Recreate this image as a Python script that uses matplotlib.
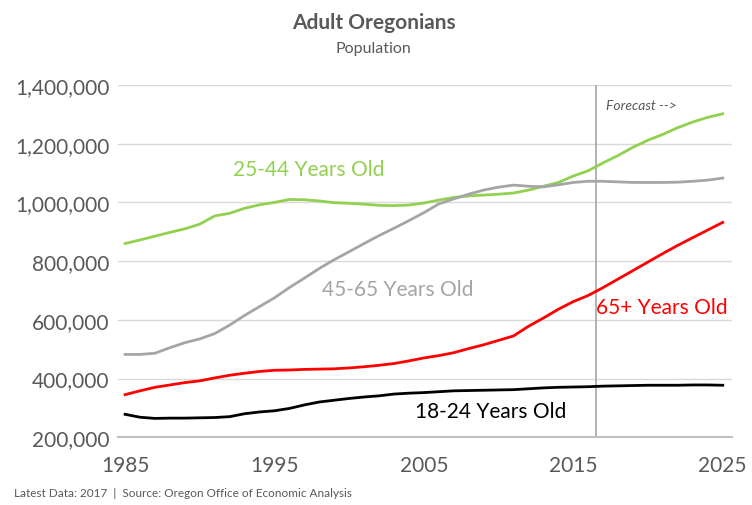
#!/usr/bin/env python3
"""Adult Oregonians: population by age group, 1985-2025."""

import matplotlib.pyplot as plt
from matplotlib.ticker import FuncFormatter

plt.rcParams["font.family"] = ["Lato", "DejaVu Sans"]

YEARS = list(range(1985, 2026))

AGE_25_44 = [
    860, 872, 885, 898, 910, 926, 954, 963, 980, 992,
    1000, 1010, 1009, 1005, 999, 997, 994, 990, 989, 991,
    998, 1008, 1017, 1022, 1025, 1028, 1032, 1042, 1055, 1068,
    1090, 1108, 1135, 1160, 1188, 1212, 1232, 1255, 1274, 1290,
    1302,
]
AGE_45_65 = [
    482, 482, 486, 505, 522, 535, 553, 582, 615, 645,
    675, 710, 742, 775, 805, 832, 860, 887, 912, 938,
    965, 995, 1012, 1028, 1042, 1052, 1059, 1055, 1053, 1060,
    1068, 1072, 1072, 1070, 1068, 1068, 1068, 1069, 1072, 1076,
    1083,
]
AGE_65_PLUS = [
    345, 358, 370, 378, 386, 392, 402, 411, 418, 424,
    428, 429, 431, 432, 433, 436, 440, 445, 451, 460,
    470, 478, 488, 502, 515, 530, 545, 578, 606, 636,
    662, 683, 710, 739, 768, 797, 826, 854, 880, 906,
    932,
]
AGE_18_24 = [
    278, 268, 264, 265, 265, 266, 267, 270, 280, 286,
    290, 298, 310, 320, 326, 332, 337, 341, 347, 350,
    352, 355, 358, 359, 360, 361, 362, 365, 368, 370,
    371, 372, 374, 375, 376, 377, 377, 377, 378, 378,
    377,
]

SERIES = [
    ("25-44 Years Old", AGE_25_44, "#92D050", (1992.2, 1113)),
    ("45-65 Years Old", AGE_45_65, "#A5A5A5", (1998.2, 704)),
    ("65+ Years Old", AGE_65_PLUS, "#FF0000", (2016.5, 643)),
    ("18-24 Years Old", AGE_18_24, "#000000", (2004.4, 289)),
]

X_TICKS = [1985, 1995, 2005, 2015, 2025]
Y_TICKS = [200000, 400000, 600000, 800000, 1000000, 1200000, 1400000]
FORECAST_START = 2016.5

fig = plt.figure(figsize=(7.52, 5.06), dpi=100)
ax = fig.add_axes([0.157, 0.134, 0.816, 0.696])

for label, values, color, (lx, ly) in SERIES:
    vals = [v * 1000 for v in values]
    ax.plot(YEARS, vals, color=color, linewidth=2.0, zorder=3)
    ax.text(lx, ly * 1000, label, color=color, fontsize=15, ha="left",
            va="center")

ax.axvline(FORECAST_START, color="#A6A6A6", linewidth=1.2, zorder=2)
ax.text(FORECAST_START + 0.7, 1332000, "Forecast -->", fontsize=10,
        style="italic", color="#595959", ha="left", va="center")

ax.set_xlim(1984.53, 2025.6)
ax.set_ylim(200000, 1400000)
ax.set_xticks(X_TICKS)
ax.set_yticks(Y_TICKS)
ax.yaxis.set_major_formatter(FuncFormatter(lambda v, _: f"{v:,.0f}"))
ax.tick_params(axis="both", length=0, labelsize=15, colors="#595959")
ax.tick_params(axis="y", pad=6)
ax.tick_params(axis="x", pad=13)
ax.grid(axis="y", color="#D9D9D9", linewidth=1.0)
ax.set_axisbelow(True)
for side in ["top", "right", "left"]:
    ax.spines[side].set_visible(False)
ax.spines["bottom"].set_color("#BFBFBF")
ax.spines["bottom"].set_linewidth(1.5)

fig.text(0.497, 0.955, "Adult Oregonians", fontsize=15, fontweight="bold",
         color="#595959", ha="center", va="center")
fig.text(0.497, 0.903, "Population", fontsize=11.5, color="#595959",
         ha="center", va="center")
fig.text(0.018, 0.024,
         "Latest Data: 2017  |  Source: Oregon Office of Economic Analysis",
         fontsize=8.5, color="#595959", ha="left", va="center")

fig.savefig("out.png", dpi=100)
